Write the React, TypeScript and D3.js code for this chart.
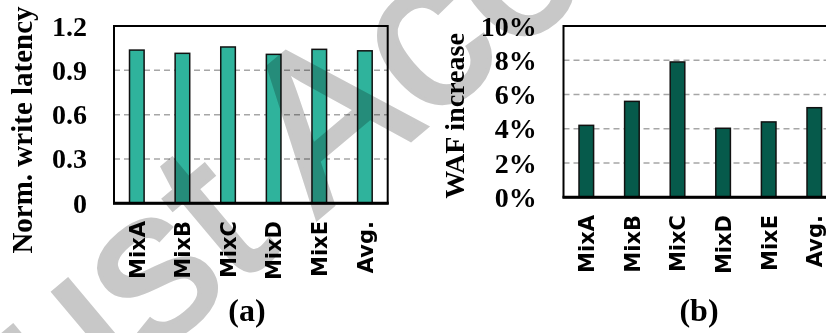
import React from "react";
import * as d3 from "d3";

// Workloads on the x axis of both panels
const categories = ["MixA", "MixB", "MixC", "MixD", "MixE", "Avg."];
// (a) write latency normalised to the baseline
const latencyValues = [1.037, 1.015, 1.058, 1.008, 1.042, 1.032];
const latencyTicks = [0, 0.3, 0.6, 0.9, 1.2];
const latencyTickLabels = ["0", "0.3", "0.6", "0.9", "1.2"];
// (b) write amplification factor increase, in percent
const wafValues = [4.2, 5.6, 7.9, 4.03, 4.4, 5.23];
const wafTicks = [0, 2, 4, 6, 8, 10];
const wafTickLabels = ["0%", "2%", "4%", "6%", "8%", "10%"];

const W = 826;
const H = 333;
const SERIF = "'Liberation Serif', 'Times New Roman', serif";
const SANS = "'DejaVu Sans', Verdana, sans-serif";
const STAMP = "'Liberation Sans', Arial, sans-serif";

type PanelProps = {
  x0: number;
  x1: number;
  yTop: number;
  yBottom: number;
  domainMax: number;
  values: number[];
  ticks: number[];
  tickLabels: string[];
  tickRight: number;
  fill: string;
  title: string;
  titleX: number;
  titleY: number;
  titleSize: number;
  caption: string;
  captionX: number;
};

function Panel(p: PanelProps) {
  const x = d3
    .scaleBand<string>()
    .domain(categories)
    .range([p.x0, p.x1])
    .paddingInner(0.68)
    .paddingOuter(0.34);
  const y = d3.scaleLinear().domain([0, p.domainMax]).range([p.yBottom, p.yTop]);
  const bw = x.bandwidth();
  return (
    <g>
      {/* dashed horizontal grid */}
      {p.ticks
        .filter((t) => t > 0 && t < p.domainMax)
        .map((t) => (
          <line
            key={"g" + t}
            x1={p.x0}
            x2={p.x1}
            y1={y(t)}
            y2={y(t)}
            stroke="#a6a6a6"
            strokeWidth={1.5}
            strokeDasharray="6,4"
          />
        ))}
      {/* bars */}
      {categories.map((c, i) => (
        <rect
          key={c}
          x={x(c)!}
          y={y(p.values[i])}
          width={bw}
          height={y(0) - y(p.values[i])}
          fill={p.fill}
          stroke="#111"
          strokeWidth={1.5}
        />
      ))}
      {/* frame and thicker baseline */}
      <rect
        x={p.x0}
        y={p.yTop}
        width={p.x1 - p.x0}
        height={p.yBottom - p.yTop}
        fill="none"
        stroke="#000"
        strokeWidth={2}
      />
      <line x1={p.x0 - 1} x2={p.x1 + 1} y1={p.yBottom} y2={p.yBottom} stroke="#000" strokeWidth={3} />
      {/* y tick labels */}
      {p.ticks.map((t, i) => (
        <text
          key={"t" + t}
          x={p.tickRight}
          y={y(t)}
          dy="0.34em"
          textAnchor="end"
          fontFamily={SERIF}
          fontWeight="bold"
          fontSize={28}
          fill="#000"
        >
          {p.tickLabels[i]}
        </text>
      ))}
      {/* x category labels */}
      {categories.map((c) => (
        <text
          key={"x" + c}
          transform={`translate(${x(c)! + bw / 2 + 7.8},${p.yBottom + 17.7}) rotate(-90)`}
          textAnchor="end"
          fontFamily={SANS}
          fontWeight="bold"
          fontSize={21}
          fill="#000"
        >
          {c}
        </text>
      ))}
      {/* y axis title */}
      <text
        transform={`translate(${p.titleX},${p.titleY}) rotate(-90)`}
        textAnchor="middle"
        fontFamily={SERIF}
        fontWeight="bold"
        fontSize={p.titleSize}
        fill="#000"
      >
        {p.title}
      </text>
      {/* panel caption */}
      <text
        x={p.captionX}
        y={321}
        textAnchor="middle"
        fontFamily={SERIF}
        fontWeight="bold"
        fontSize={32}
        fill="#000"
      >
        {p.caption}
      </text>
    </g>
  );
}

export default function App() {
  return (
    <svg
      width={W}
      height={H}
      viewBox={`0 0 ${W} ${H}`}
      style={{ position: "absolute", left: 0, top: 0, background: "#fff" }}
    >
      <rect x={0} y={0} width={W} height={H} fill="#fff" />
      <Panel
        x0={114}
        x1={387.7}
        yTop={26}
        yBottom={203.3}
        domainMax={1.2}
        values={latencyValues}
        ticks={latencyTicks}
        tickLabels={latencyTickLabels}
        tickRight={87}
        fill="#2fb39c"
        title="Norm. write latency"
        titleX={32}
        titleY={130}
        titleSize={29}
        caption="(a)"
        captionX={247}
      />
      <Panel
        x0={563.5}
        x1={837.1}
        yTop={26}
        yBottom={197.3}
        domainMax={10}
        values={wafValues}
        ticks={wafTicks}
        tickLabels={wafTickLabels}
        tickRight={536.7}
        fill="#065a4b"
        title="WAF increase"
        titleX={464}
        titleY={116}
        titleSize={28}
        caption="(b)"
        captionX={699}
      />
      {/* diagonal status stamp across the figure */}
      <g transform="translate(-21.7,503) rotate(-40)" style={{ mixBlendMode: "multiply" }}>
        <text
          x={0}
          y={0}
          fontFamily={STAMP}
          fontSize={215}
          fill="#c8c8c8"
          stroke="#c8c8c8"
          strokeWidth={4}
        >
          Just Accepted
        </text>
      </g>
    </svg>
  );
}
